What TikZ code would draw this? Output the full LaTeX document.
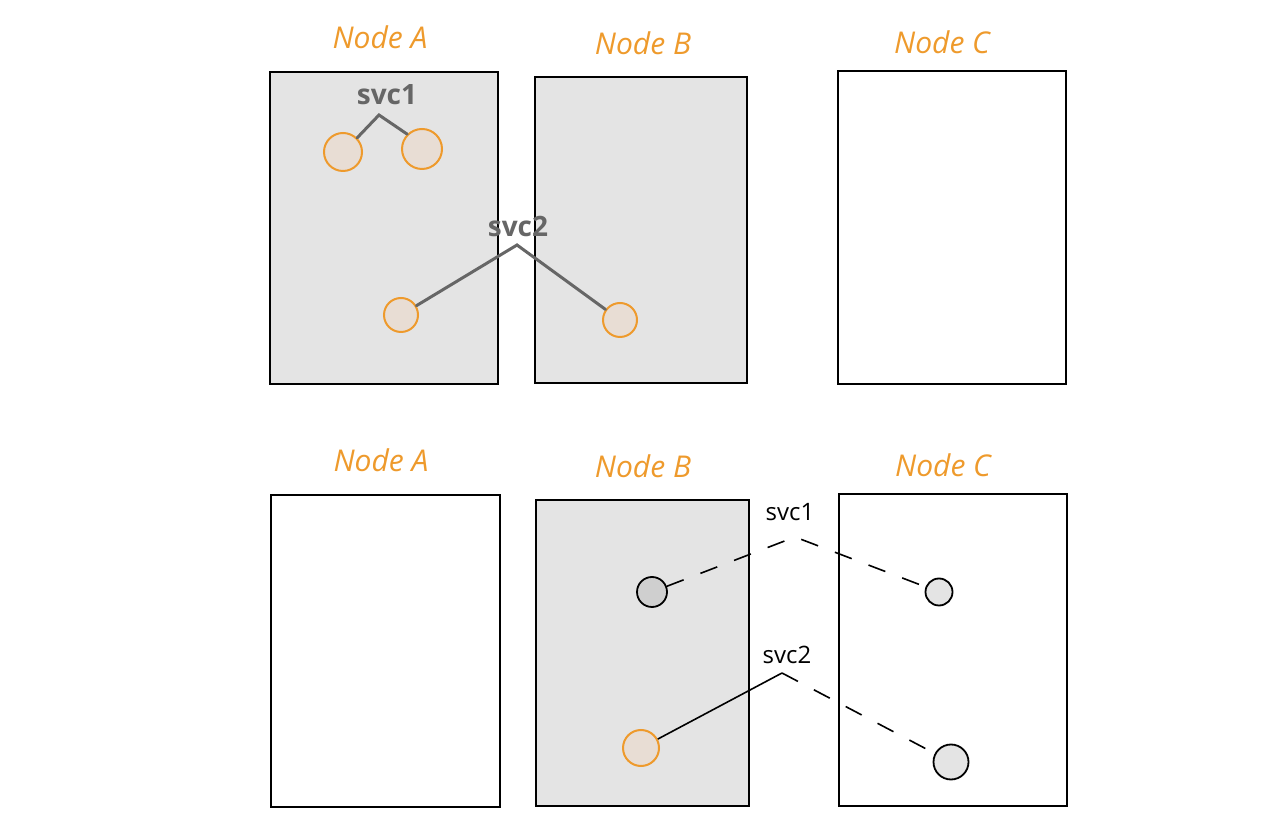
\documentclass[tikz,border=0pt]{standalone}
\usepackage{fontspec}
\setmainfont{Open Sans}
\usetikzlibrary{positioning}
\definecolor{hostgray}{HTML}{E4E4E4}
\definecolor{sketchorange}{HTML}{EE9A2C}
\definecolor{podbeige}{HTML}{E8DDD4}
\definecolor{podgray}{HTML}{CFCFCF}
\definecolor{linkgray}{HTML}{666666}
\begin{document}
\begin{tikzpicture}[x=0.5pt,y=-0.5pt]
\tikzstyle{host}=[draw=black,line width=1pt,inner sep=0pt]
\tikzstyle{hostname}=[text=sketchorange,font=\fontsize{15}{18}\selectfont\itshape]
\tikzstyle{svcname}=[font=\fontsize{12}{14}\selectfont]
\tikzstyle{pod}=[circle,draw=sketchorange,fill=podbeige,line width=1pt,inner sep=0pt]
\tikzstyle{replica}=[circle,draw=black,fill=hostgray,line width=0.9pt,inner sep=0pt]
\tikzstyle{link}=[draw=linkgray,line width=1.5pt,line cap=round]
\tikzstyle{moved}=[draw=black,line width=0.8pt,dash pattern=on 9pt off 9pt]
\useasboundingbox (0,0) rectangle (1280,838);
% top row
\node[host,fill=hostgray,minimum width=114pt,minimum height=156pt] (hostA) at (384,228) {};
\node[host,fill=hostgray,minimum width=106pt,minimum height=153pt] (hostB) at (641,230) {};
\node[host,fill=white,minimum width=114pt,minimum height=156.5pt] (hostC) at (952,227.5) {};
\node[hostname] (nameA) at (380,37) {Node A};
\node[hostname] (nameB) at (643,43) {Node B};
\node[hostname] (nameC) at (942,42) {Node C};
\node[pod,minimum size=19pt] (svcA1) at (343,152) {};
\node[pod,minimum size=20pt] (svcA2) at (422,149) {};
\node[pod,minimum size=17pt] (svcB1) at (401,315) {};
\node[pod,minimum size=17pt] (svcB2) at (620,320) {};
\coordinate (topA) at (379,115);
\coordinate (topB) at (517,245);
\node[svcname,text=linkgray,font=\fontsize{14}{16}\selectfont\bfseries] (labelA) at (387,95) {svc1};
\node[svcname,text=linkgray,font=\fontsize{14}{16}\selectfont\bfseries] (labelB) at (518,227) {svc2};
\draw[link] (svcA1.north east) -- (topA) -- (svcA2.north west);
\draw[link] (svcB1) -- (topB) -- (svcB2);
% bottom row
\node[host,fill=white,minimum width=114.5pt,minimum height=156pt] (hostD) at (385.5,651) {};
\node[host,fill=hostgray,minimum width=106.5pt,minimum height=153pt] (hostE) at (642.5,653) {};
\node[host,fill=white,minimum width=114pt,minimum height=156pt] (hostF) at (953,650) {};
\node[hostname] (nameD) at (381,460) {Node A};
\node[hostname] (nameE) at (643,466) {Node B};
\node[hostname] (nameF) at (943,465) {Node C};
\node[replica,fill=podgray,minimum size=15pt] (svcE1) at (652,592) {};
\node[replica,minimum size=13.5pt] (svcF1) at (939,592) {};
\node[pod,minimum size=18pt] (svcE2) at (641,748) {};
\node[replica,minimum size=17.5pt] (svcF2) at (951,762) {};
\coordinate (topE) at (795,537);
\coordinate (topF) at (782,673);
\node[svcname] (labelE) at (790,512) {svc1};
\node[svcname] (labelF) at (787,655) {svc2};
\draw[moved] (svcE1) -- (topE) -- (svcF1);
\draw[black,line width=0.8pt] (svcE2) -- (topF);
\draw[moved] (topF) -- (svcF2);
\end{tikzpicture}
\end{document}
